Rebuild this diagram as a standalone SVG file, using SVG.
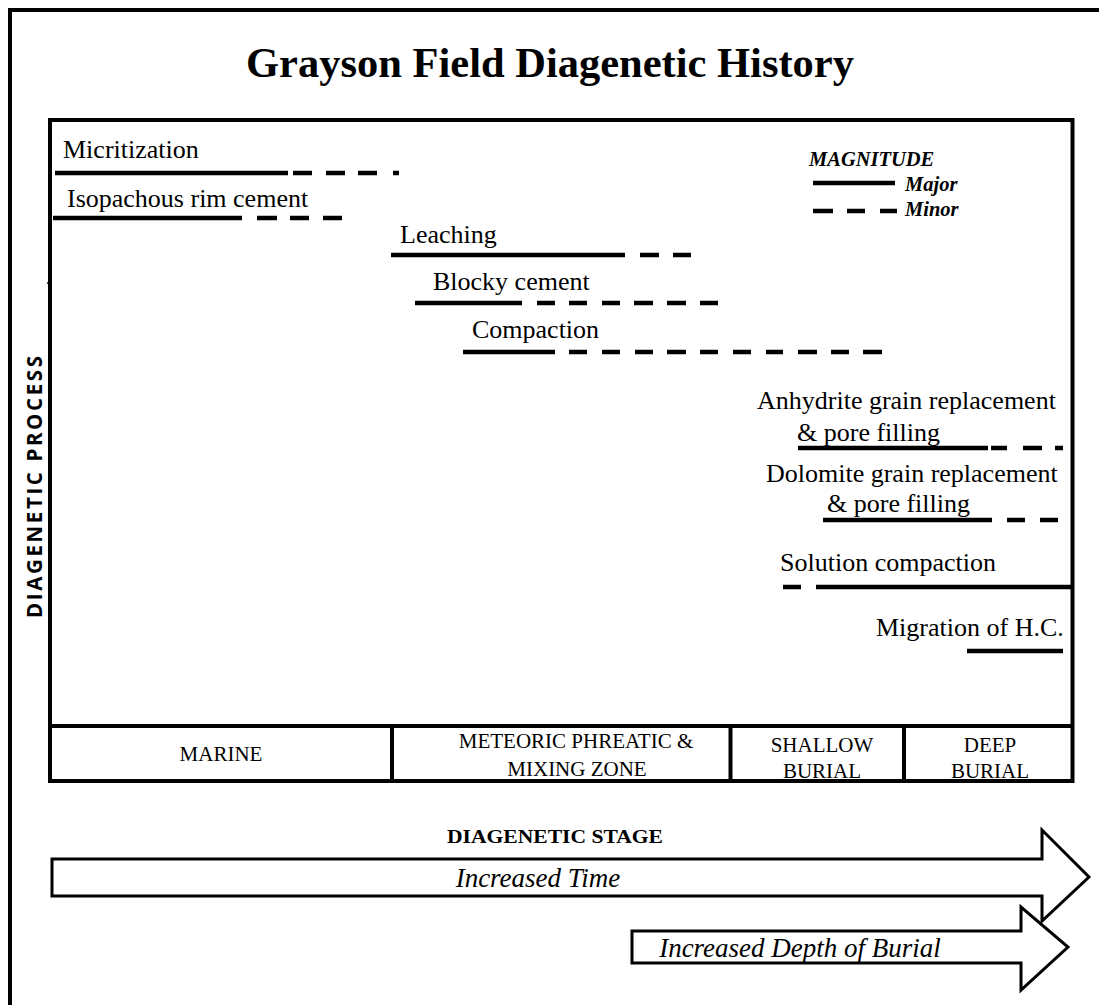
<svg xmlns="http://www.w3.org/2000/svg" width="1099" height="1005" viewBox="0 0 1099 1005">
<style>
  .lbl { font-family: "Liberation Serif", "Times New Roman", serif; font-size: 26px; fill: #000; }
  .stage { font-family: "Liberation Serif", "Times New Roman", serif; font-size: 21px; fill: #000; text-anchor: middle; }
  .leg { font-family: "Liberation Serif", "Times New Roman", serif; font-size: 20.5px; font-weight: bold; font-style: italic; fill: #000; }
  .bar { stroke: #000; stroke-width: 4.5; fill: none; }
  .frame { stroke: #000; stroke-width: 4; fill: none; }
  .arrow { stroke: #000; stroke-width: 3; fill: #fff; stroke-linejoin: miter; }
  .ital { font-family: "Liberation Serif", "Times New Roman", serif; font-size: 27px; font-style: italic; fill: #000; text-anchor: middle; }
</style>
<rect x="0" y="0" width="1099" height="1005" fill="#fff"/>
<g id="outer-border">
  <path class="frame" d="M10,1005 V10 H1099"/>
</g>
<g id="title">
  <text x="550" y="77" text-anchor="middle" font-family="Liberation Serif, Times New Roman, serif" font-size="42.5" font-weight="bold">Grayson Field Diagenetic History</text>
</g>
<g id="chart-frame">
  <rect class="frame" x="50" y="120" width="1022.5" height="661"/>
  <line class="frame" x1="50" y1="726" x2="1072.5" y2="726"/>
  <line class="frame" x1="392" y1="726" x2="392" y2="781"/>
  <line class="frame" x1="730.5" y1="726" x2="730.5" y2="781"/>
  <line class="frame" x1="904" y1="726" x2="904" y2="781"/>
  <line x1="47" y1="283" x2="50" y2="283" stroke="#000" stroke-width="1.5"/>
</g>
<g id="axis-label">
  <text transform="translate(42,487) rotate(-90)" text-anchor="middle" font-family="Open Sans, DejaVu Sans, sans-serif" font-size="20.5" font-weight="bold" textLength="262" lengthAdjust="spacing">DIAGENETIC PROCESS</text>
</g>
<g id="legend">
  <text class="leg" x="809" y="166">MAGNITUDE</text>
  <path class="bar" d="M813,183 H895"/>
  <text class="leg" x="905" y="191">Major</text>
  <path class="bar" d="M813,211 H833 M847,211 H865 M880,211 H897"/>
  <text class="leg" x="905" y="216">Minor</text>
</g>
<g id="connectors">
  <g id="bar-micritization">
    <path class="bar" d="M55,173 H288"/>
    <path class="bar" d="M293,173 H312 M326,173 H345 M358,173 H377 M393,173 H399"/>
  </g>
  <g id="bar-isopachous">
    <path class="bar" d="M53,218 H242"/>
    <path class="bar" d="M257,218 H277 M290,218 H309 M323,218 H342"/>
  </g>
  <g id="bar-leaching">
    <path class="bar" d="M391,255 H625"/>
    <path class="bar" d="M640,255 H659 M673,255 H691"/>
  </g>
  <g id="bar-blocky">
    <path class="bar" d="M415,303 H522"/>
    <path class="bar" d="M537,303 H555 M569,303 H587 M602,303 H620 M634,303 H653 M667,303 H686 M700,303 H718"/>
  </g>
  <g id="bar-compaction">
    <path class="bar" d="M463,352 H555"/>
    <path class="bar" d="M569,352 H587 M602,352 H620 M635,352 H653 M667,352 H686 M700,352 H718 M733,352 H751 M766,352 H783 M798,352 H817 M831,352 H849 M863,352 H882"/>
  </g>
  <g id="bar-anhydrite">
    <path class="bar" d="M798,448 H988"/>
    <path class="bar" d="M991,448 H1007 M1023,448 H1042 M1055,448 H1063"/>
  </g>
  <g id="bar-dolomite">
    <path class="bar" d="M823,520 H992"/>
    <path class="bar" d="M1007,520 H1025 M1040,520 H1058"/>
  </g>
  <g id="bar-solution">
    <path class="bar" d="M783,587 H801"/>
    <path class="bar" d="M816,587 H1071"/>
  </g>
  <g id="bar-migration">
    <path class="bar" d="M967,651 H1063"/>
  </g>
</g>
<g id="node-micritization"><text class="lbl" x="63" y="158">Micritization</text></g>
<g id="node-isopachous"><text class="lbl" x="67" y="207">Isopachous rim cement</text></g>
<g id="node-leaching"><text class="lbl" x="400" y="243">Leaching</text></g>
<g id="node-blocky"><text class="lbl" x="433" y="290">Blocky cement</text></g>
<g id="node-compaction"><text class="lbl" x="472" y="338">Compaction</text></g>
<g id="node-anhydrite">
  <text class="lbl" x="757" y="409">Anhydrite grain replacement</text>
  <text class="lbl" x="797" y="441">&amp; pore filling</text>
</g>
<g id="node-dolomite">
  <text class="lbl" x="766" y="482">Dolomite grain replacement</text>
  <text class="lbl" x="827" y="512">&amp; pore filling</text>
</g>
<g id="node-solution"><text class="lbl" x="780" y="571">Solution compaction</text></g>
<g id="node-migration"><text class="lbl" x="876" y="636">Migration of H.C.</text></g>
<g id="stage-marine"><text class="stage" x="221" y="761">MARINE</text></g>
<g id="stage-meteoric">
  <text class="stage" x="576" y="748">METEORIC PHREATIC &amp;</text>
  <text class="stage" x="577" y="776">MIXING ZONE</text>
</g>
<g id="stage-shallow">
  <text class="stage" x="822" y="752">SHALLOW</text>
  <text class="stage" x="822" y="778">BURIAL</text>
</g>
<g id="stage-deep">
  <text class="stage" x="990" y="752">DEEP</text>
  <text class="stage" x="990" y="778">BURIAL</text>
</g>
<g id="stage-caption">
  <text x="447" y="843" font-family="Liberation Serif, Times New Roman, serif" font-size="19" font-weight="bold" textLength="216" lengthAdjust="spacingAndGlyphs">DIAGENETIC STAGE</text>
</g>
<g id="arrow-time">
  <polygon class="arrow" points="52,859 1042,859 1042,830 1089,877 1042,921 1042,896 52,896"/>
  <text class="ital" x="538" y="887">Increased Time</text>
</g>
<g id="arrow-depth">
  <polygon class="arrow" points="632,931 1021,931 1021,907 1068,947 1021,990 1021,963 632,963"/>
  <text class="ital" x="800" y="957">Increased Depth of Burial</text>
</g>
</svg>
